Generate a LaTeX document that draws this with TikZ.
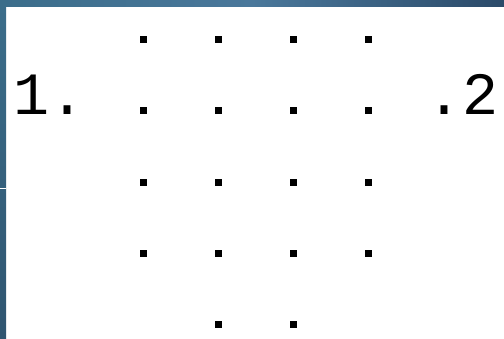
\documentclass[tikz,border=0pt]{standalone}
\usepackage{fontspec}
\setmonofont{Liberation Mono}
\begin{document}
\begin{tikzpicture}[x=1pt,y=-1pt,
  dotpt/.style={rectangle,fill=black,minimum size=7pt,inner sep=0pt},
  label/.style={font=\ttfamily\fontsize{60}{60}\selectfont,inner sep=0pt,anchor=base}]
\definecolor{bdA}{HTML}{3B6D8A}
\definecolor{bdB}{HTML}{4A789B}
\definecolor{bdC}{HTML}{2B4A69}
\definecolor{bdD}{HTML}{2F5570}
\useasboundingbox (0,0) rectangle (504,338);
\fill[white] (0,0) rectangle (504,338);
% borders
\shade[left color=bdA,right color=bdC,middle color=bdB] (0,0) rectangle (504,6);
\shade[top color=bdA,bottom color=bdD] (0,6) rectangle (6,338);
\draw[white,line width=0.9pt] (0,188) -- (6,188);
% labels
\node[label] (one) at (50,114) {1.};
\node[label] (two) at (463,114) {.2};
% grid of dots
\foreach \r/\y in {1/39,2/110,3/182,4/253}{
  \foreach \c/\x in {1/143,2/218,3/293,4/368}{
    \node[dotpt] (d\r\c) at (\x,\y) {};
  }
}
\node[dotpt] (d52) at (218,324) {};
\node[dotpt] (d53) at (293,324) {};
\end{tikzpicture}
\end{document}
